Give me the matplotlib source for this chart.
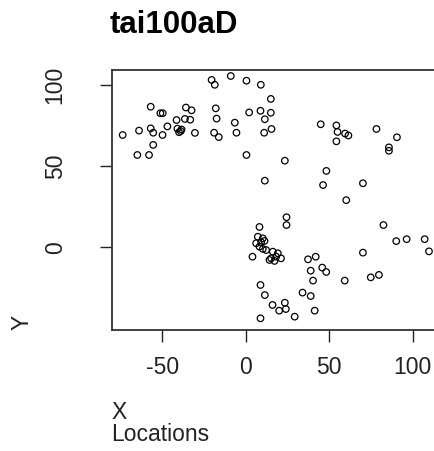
import matplotlib
matplotlib.use("Agg")
import matplotlib.pyplot as plt

plt.rcParams['font.family'] = ['Liberation Sans', 'DejaVu Sans']

title = "tai100aD"
x_label = "X\nLocations"
y_label = "Y"
x_ticks = [-50, 0, 50, 100]
y_ticks = [0, 50, 100]

# location coordinates
loc_x = [-73.8, -64.0, -57.0, -57.0, -55.5, -55.5, -65.0, -58.0, -51.2, -49.8,
         -49.9, -47.0, -41.5, -41.0, -39.0, -40.0, -38.5, -35.9, -32.5, -36.5,
         -33.3, -30.5, -20.5, -18.6, -18.0, -17.5, -19.0, -16.2, -9.0, -6.6,
         -5.6, 0.4, 0.4, 2.0, 9.0, 8.8, 15.0, 15.0, 11.4, 15.4,
         11.0, 23.4, 11.4, 44.9, 54.3, 55.0, 59.5, 61.5, 54.3, 78.3,
         90.6, 85.8, 85.8, 48.3, 46.3, 70.2, 60.2, 24.4, 24.4, 8.2,
         82.5, 7.2, 10.2, 6.2, 9.2, 11.2, 8.2, 10.2, 12.2, 16.2,
         19.2, 15.2, 18.2, 21.1, 17.2, 14.2, 4.0, 90.2, 96.4, 107.2,
         109.8, 70.2, 37.3, 41.9, 38.9, 45.8, 48.2, 40.3, 59.3, 74.9,
         79.8, 8.8, 11.4, 34.0, 38.9, 16.0, 23.4, 20.0, 24.0, 41.3,
         29.3, 8.8]
loc_y = [69.1, 71.8, 86.5, 73.2, 70.5, 63.0, 56.8, 56.8, 82.5, 82.5,
         69.1, 74.4, 78.3, 73.0, 71.5, 70.8, 72.5, 86.0, 84.3, 79.0,
         78.5, 70.4, 103.0, 100.0, 85.5, 79.2, 70.5, 67.8, 105.4, 76.7,
         70.5, 102.5, 56.8, 83.0, 100.0, 84.0, 91.3, 82.8, 78.8, 72.8,
         70.5, 53.3, 41.0, 75.7, 75.0, 71.0, 70.0, 68.8, 65.2, 72.8,
         67.7, 61.5, 59.4, 47.0, 38.3, 39.4, 29.0, 18.5, 13.7, 12.5,
         13.7, 6.5, 5.5, 2.5, 3.1, 3.9, 0.4, -1.0, -1.7, -2.7,
         -3.7, -6.8, -5.8, -6.8, -8.4, -7.8, -5.8, 3.8, 5.0, 5.0,
         -2.5, -3.3, -7.4, -5.8, -14.4, -12.5, -15.2, -20.5, -20.5, -18.5,
         -17.0, -23.2, -29.4, -27.9, -30.0, -35.5, -34.1, -39.0, -38.0, -39.0,
         -42.7, -43.7]

W, H = 435, 451
fig = plt.figure(figsize=(W / 100, H / 100), dpi=100)

# plot region in pixels: left 112, top 70, bottom 330, right edge past the figure
left_px, top_px, bottom_px, right_px = 112, 70, 330, 446
ax = fig.add_axes([left_px / W, 1 - bottom_px / H,
                   (right_px - left_px) / W, (bottom_px - top_px) / H])

ax.scatter(loc_x, loc_y, s=22, facecolors='none', edgecolors='black',
           linewidths=0.9, zorder=3)

ax.set_xlim(-80.2, 120.0)
ax.set_ylim(-50.9, 109.1)
ax.set_xticks(x_ticks)
ax.set_yticks(y_ticks)
ax.set_xticklabels([str(v) for v in x_ticks])
ax.set_yticklabels([str(v) for v in y_ticks], rotation=90, va='center')

ax.tick_params(axis='both', direction='out', length=8.6, width=1.0,
               labelsize=16.5, color='#222222', labelcolor='#222222')
ax.tick_params(axis='x', pad=10)
ax.tick_params(axis='y', pad=24)

for sp in ax.spines.values():
    sp.set_linewidth(1.3)
    sp.set_color('#333333')

fig.text(110 / W, 1 - 33 / H, title, fontsize=22.5, fontweight='bold',
         ha='left', va='baseline', color='black')
fig.text(111 / W, 1 - 446 / H, x_label, fontsize=16.5, ha='left',
         va='bottom', linespacing=0.95, color='#222222')
fig.text(22 / W, 1 - 330 / H, y_label, fontsize=16.5, rotation=90,
         ha='center', va='bottom', color='#222222')

fig.savefig("out.png", dpi=100)
